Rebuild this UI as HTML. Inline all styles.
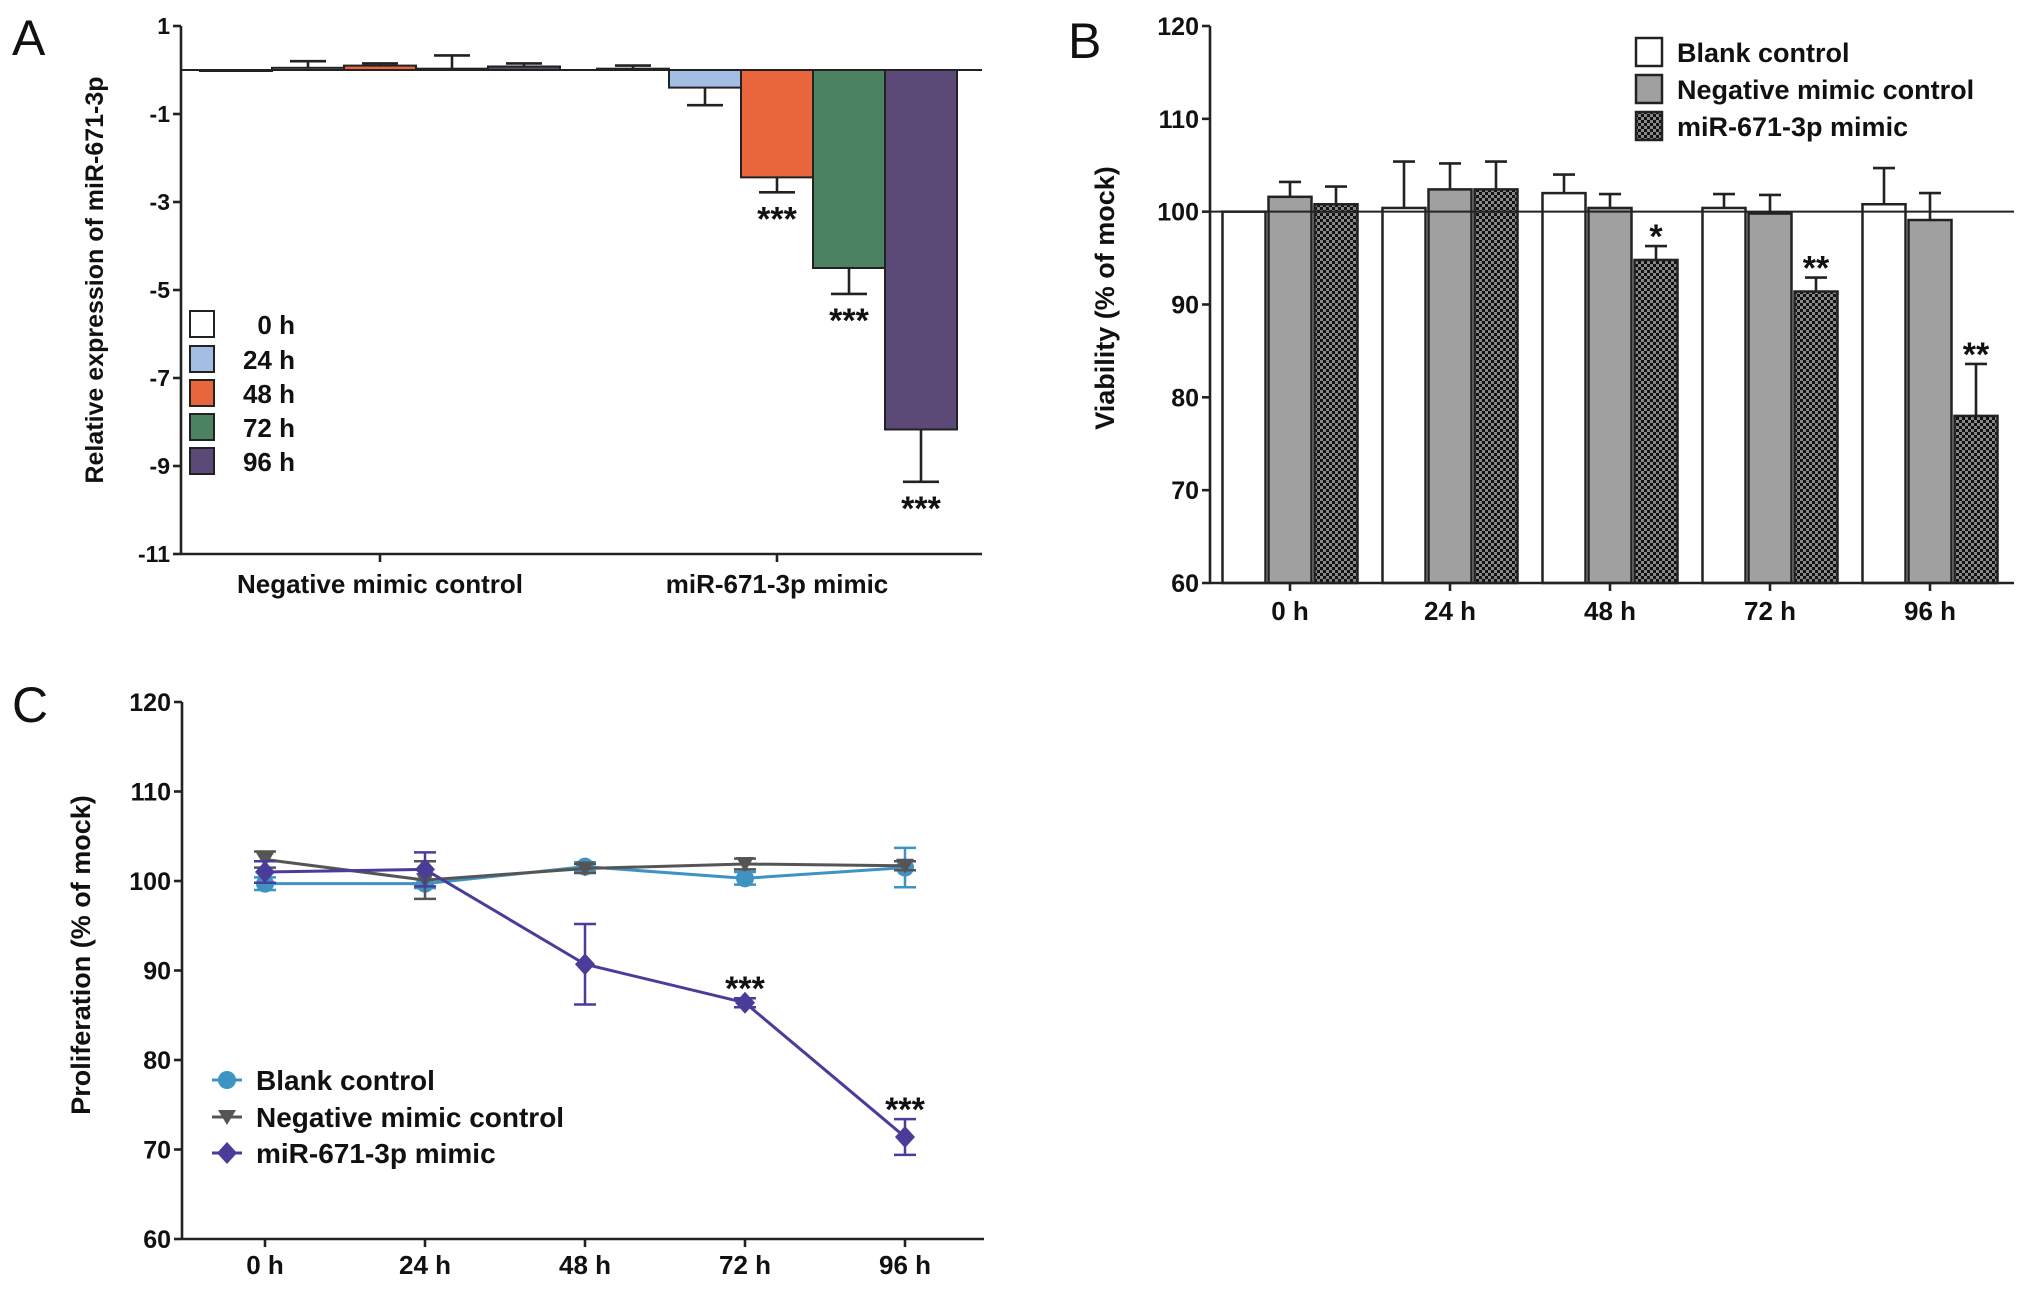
<!DOCTYPE html>
<html><head><meta charset="utf-8"><style>
html,body{margin:0;padding:0;background:#fff}
svg{display:block}
text{font-family:"Liberation Sans",sans-serif;font-weight:bold;fill:#111}
</style></head><body>
<svg id="fig" width="2031" height="1289" viewBox="0 0 2031 1289" xmlns="http://www.w3.org/2000/svg">
<defs>
<pattern id="hatch" width="6" height="6" patternUnits="userSpaceOnUse">
<rect width="6" height="6" fill="#111"/>
<rect x="0" y="0" width="3" height="3" fill="#888"/>
<rect x="3" y="3" width="3" height="3" fill="#888"/>
</pattern>
</defs>
<text x="12" y="55" font-size="50" style="font-weight:normal">A</text>
<text x="1068" y="58" font-size="50" style="font-weight:normal">B</text>
<text x="12" y="722" font-size="50" style="font-weight:normal">C</text>
<g id="pa"></g>
<g id="pb"></g>
<g id="pc"></g>
</svg>
<script>
// Panel A data
const aGroups = ["Negative  mimic control", "miR-671-3p mimic"];
const aTimes = ["0 h", "24 h", "48 h", "72 h", "96 h"];
const aNeg = [0, 0.05, 0.1, 0.03, 0.08];
const aNegErr = [0, 0.15, 0.05, 0.3, 0.07];
const aMir = [0.03, -0.4, -2.44, -4.5, -8.17];
const aMirErr = [0.07, 0.4, 0.34, 0.59, 1.19];
const aMirSig = ["", "", "***", "***", "***"];
const aTicks = [1, -1, -3, -5, -7, -9, -11];
const aColors = ["#ffffff", "#a3bde3", "#e9653b", "#4b8261", "#5b4a78"];
// Panel B data
const bTimes = ["0 h", "24 h", "48 h", "72 h", "96 h"];
const bSeries = ["Blank control", "Negative mimic control", "miR-671-3p mimic"];
const bBlank = [100, 100.4, 102, 100.4, 100.8];
const bBlankErr = [0, 5, 2, 1.5, 3.9];
const bNeg = [101.6, 102.4, 100.4, 99.8, 99.1];
const bNegErr = [1.6, 2.8, 1.5, 2, 2.9];
const bMir = [100.8, 102.4, 94.8, 91.4, 78];
const bMirErr = [1.9, 3, 1.5, 1.5, 5.6];
const bMirSig = ["", "", "*", "**", "**"];
const bTicks = [60, 70, 80, 90, 100, 110, 120];
// Panel C data
const cTimes = ["0 h", "24 h", "48 h", "72 h", "96 h"];
const cBlank = [99.7, 99.7, 101.6, 100.3, 101.5];
const cBlankErr = [0.7, 0.5, 0.5, 0.7, 2.2];
const cNeg = [102.4, 100.1, 101.4, 101.9, 101.7];
const cNegErr = [0.9, 2.1, 0.5, 0.6, 0.5];
const cMir = [101, 101.3, 90.7, 86.4, 71.4];
const cMirErr = [1.2, 1.9, 4.5, 0.5, 2];
const cMirSig = ["", "", "", "***", "***"];
const cTicks = [60, 70, 80, 90, 100, 110, 120];

const NS = "http://www.w3.org/2000/svg";
function mk(parent, tag, attrs, txt) {
  const e = document.createElementNS(NS, tag);
  for (const k in attrs) e.setAttribute(k, attrs[k]);
  if (txt !== undefined) e.textContent = txt;
  parent.appendChild(e);
  return e;
}
const LW = 2.6;

// ---------- Panel A ----------
(function(){
  const g = document.getElementById('pa');
  const x0 = 181, x1 = 982, yTop = 26, yBot = 554, vTop = 1, vBot = -11;
  const y = v => yTop + (vTop - v) * (yBot - yTop) / (vTop - vBot);
  const bw = 72, centers = [380, 777];
  aTicks.forEach(t => {
    let l = mk(g, 'line', {x1: x0 - 8, x2: x0, y1: y(t), y2: y(t), stroke: '#222', 'stroke-width': LW});
    
    
    let tx = mk(g, 'text', {x: x0 - 11, y: y(t) + 8, 'font-size': 23, 'text-anchor': 'end'}, String(t));
    
    
  });
  const series = [aNeg, aMir], errs = [aNegErr, aMirErr];
  series.forEach((vals, gi) => {
    const start = centers[gi] - bw * vals.length / 2;
    vals.forEach((v, i) => {
      const bx = start + i * bw, yv = y(v), y0 = y(0);
      let r = mk(g, 'rect', {x: bx, y: Math.min(yv, y0), width: bw, height: Math.max(Math.abs(yv - y0), 1), fill: aColors[i], stroke: '#222', 'stroke-width': 2});
      
      
      const e = errs[gi][i], cx = bx + bw / 2;
      if (e > 0) {
        const ye = y(v >= 0 ? v + e : v - e);
        mk(g, 'line', {x1: cx, x2: cx, y1: yv, y2: ye, stroke: '#222', 'stroke-width': LW});
        mk(g, 'line', {x1: cx - 18, x2: cx + 18, y1: ye, y2: ye, stroke: '#222', 'stroke-width': LW});
      }
      if (gi === 1 && aMirSig[i]) {
        let s = mk(g, 'text', {x: cx, y: y(v - e) + 38, 'font-size': 34, 'text-anchor': 'middle'}, aMirSig[i]);
        
        
      }
    });
  });
  mk(g, 'line', {x1: x0, x2: x1, y1: y(0), y2: y(0), stroke: '#222', 'stroke-width': 2});
  mk(g, 'line', {x1: x0, x2: x0, y1: yTop, y2: yBot, stroke: '#222', 'stroke-width': LW});
  mk(g, 'line', {x1: x0, x2: x1, y1: yBot, y2: yBot, stroke: '#222', 'stroke-width': LW});
  aGroups.forEach((n, i) => {
    mk(g, 'line', {x1: centers[i], x2: centers[i], y1: yBot, y2: yBot + 8, stroke: '#222', 'stroke-width': LW});
    let t = mk(g, 'text', {x: centers[i], y: 593, 'font-size': 26, 'text-anchor': 'middle', 'xml:space': 'preserve'}, n);
    
    
  });
  let yl = mk(g, 'text', {x: 0, y: 0, 'font-size': 25, 'text-anchor': 'middle', transform: 'translate(103,280) rotate(-90)'}, 'Relative expression of miR-671-3p');
  
  
  const legY = [324, 359, 393, 427, 461];
  aTimes.forEach((t, i) => {
    let r = mk(g, 'rect', {x: 190, y: legY[i] - 13, width: 24, height: 26, fill: aColors[i], stroke: '#222', 'stroke-width': 2});
    
    
    let tx = mk(g, 'text', {x: 295, y: legY[i] + 10, 'font-size': 26, 'text-anchor': 'end'}, t);
    
    
  });
})();

// ---------- Panel B ----------
(function(){
  const g = document.getElementById('pb');
  const x0 = 1210, x1 = 2014, yTop = 26, yBot = 583, vTop = 120, vBot = 60;
  const y = v => yTop + (vTop - v) * (yBot - yTop) / (vTop - vBot);
  const bw = 43, gap = 3, spacing = 160, c0 = 1290;
  bTicks.forEach(t => {
    mk(g, 'line', {x1: x0 - 8, x2: x0, y1: y(t), y2: y(t), stroke: '#222', 'stroke-width': LW});
    let tx = mk(g, 'text', {x: x0 - 11, y: y(t) + 9, 'font-size': 25, 'text-anchor': 'end'}, String(t));
    
    
  });
  const vals = [bBlank, bNeg, bMir], errs = [bBlankErr, bNegErr, bMirErr];
  const fills = ['#ffffff', '#a0a0a0', 'url(#hatch)'];
  const names = ['blank', 'negative', 'mimic'];
  bTimes.forEach((tm, i) => {
    const c = c0 + i * spacing;
    vals.forEach((sv, s) => {
      const bx = c - 1.5 * bw - gap + s * (bw + gap);
      const v = sv[i];
      let r = mk(g, 'rect', {x: bx, y: y(v), width: bw, height: yBot - y(v), fill: fills[s], stroke: '#222', 'stroke-width': 2.5});
      
      
      const e = errs[s][i], cx = bx + bw / 2;
      if (e > 0) {
        mk(g, 'line', {x1: cx, x2: cx, y1: y(v), y2: y(v + e), stroke: '#222', 'stroke-width': LW});
        mk(g, 'line', {x1: cx - 11, x2: cx + 11, y1: y(v + e), y2: y(v + e), stroke: '#222', 'stroke-width': LW});
      }
      if (s === 2 && bMirSig[i]) {
        let st = mk(g, 'text', {x: cx, y: y(v + e) + 2, 'font-size': 34, 'text-anchor': 'middle'}, bMirSig[i]);
        
        
      }
    });
    mk(g, 'line', {x1: c, x2: c, y1: yBot, y2: yBot + 8, stroke: '#222', 'stroke-width': LW});
    let tx = mk(g, 'text', {x: c, y: 620, 'font-size': 26, 'text-anchor': 'middle'}, tm);
    
    
  });
  mk(g, 'line', {x1: x0, x2: x1, y1: y(100), y2: y(100), stroke: '#222', 'stroke-width': 2});
  mk(g, 'line', {x1: x0, x2: x0, y1: yTop, y2: yBot, stroke: '#222', 'stroke-width': LW});
  mk(g, 'line', {x1: x0, x2: x1, y1: yBot, y2: yBot, stroke: '#222', 'stroke-width': LW});
  let yl = mk(g, 'text', {x: 0, y: 0, 'font-size': 27, 'text-anchor': 'middle', transform: 'translate(1114,298) rotate(-90)'}, 'Viability (% of mock)');
  
  
  const legY = [52, 89, 126];
  bSeries.forEach((n, i) => {
    let r = mk(g, 'rect', {x: 1636, y: legY[i] - 14, width: 26, height: 28, fill: fills[i], stroke: '#222', 'stroke-width': 2.5});
    
    
    let tx = mk(g, 'text', {x: 1677, y: legY[i] + 10, 'font-size': 27}, n);
    
    
  });
})();

// ---------- Panel C ----------
(function(){
  const g = document.getElementById('pc');
  const x0 = 182, x1 = 984, yTop = 702, yBot = 1239, vTop = 120, vBot = 60;
  const y = v => yTop + (vTop - v) * (yBot - yTop) / (vTop - vBot);
  const x = i => 265 + i * 160;
  cTicks.forEach(t => {
    mk(g, 'line', {x1: x0 - 8, x2: x0, y1: y(t), y2: y(t), stroke: '#222', 'stroke-width': LW});
    let tx = mk(g, 'text', {x: x0 - 11, y: y(t) + 9, 'font-size': 25, 'text-anchor': 'end'}, String(t));
    
    
  });
  cTimes.forEach((tm, i) => {
    mk(g, 'line', {x1: x(i), x2: x(i), y1: yBot, y2: yBot + 8, stroke: '#222', 'stroke-width': LW});
    let tx = mk(g, 'text', {x: x(i), y: 1274, 'font-size': 26, 'text-anchor': 'middle'}, tm);
    
    
  });
  mk(g, 'line', {x1: x0, x2: x0, y1: yTop, y2: yBot, stroke: '#222', 'stroke-width': LW});
  mk(g, 'line', {x1: x0, x2: x1, y1: yBot, y2: yBot, stroke: '#222', 'stroke-width': LW});
  const ser = [
    {v: cBlank, e: cBlankErr, col: '#3f93c2', m: 'circle', n: 'blank-control'},
    {v: cNeg, e: cNegErr, col: '#555555', m: 'tri', n: 'negative-mimic-control'},
    {v: cMir, e: cMirErr, col: '#4a3d9a', m: 'diamond', n: 'mir-671-3p-mimic'}
  ];
  function marker(parent, type, cx, cy, col) {
    let el;
    if (type === 'circle') el = mk(parent, 'circle', {cx: cx, cy: cy, r: 9, fill: col});
    else if (type === 'tri') el = mk(parent, 'path', {d: `M${cx-9},${cy-7} L${cx+9},${cy-7} L${cx},${cy+8} Z`, fill: col});
    else el = mk(parent, 'path', {d: `M${cx},${cy-11} L${cx+10},${cy} L${cx},${cy+11} L${cx-10},${cy} Z`, fill: col});
    return el;
  }
  ser.forEach(s => {
    const pts = s.v.map((v, i) => x(i) + ',' + y(v)).join(' ');
    let pl = mk(g, 'polyline', {points: pts, fill: 'none', stroke: s.col, 'stroke-width': 3});
    
    
    s.v.forEach((v, i) => {
      const cx = x(i);
      mk(g, 'line', {x1: cx, x2: cx, y1: y(v - s.e[i]), y2: y(v + s.e[i]), stroke: s.col, 'stroke-width': 2.5});
      mk(g, 'line', {x1: cx - 11, x2: cx + 11, y1: y(v - s.e[i]), y2: y(v - s.e[i]), stroke: s.col, 'stroke-width': 2.5});
      mk(g, 'line', {x1: cx - 11, x2: cx + 11, y1: y(v + s.e[i]), y2: y(v + s.e[i]), stroke: s.col, 'stroke-width': 2.5});
      let m = marker(g, s.m, cx, y(v), s.col);
      
      
    });
  });
  cMir.forEach((v, i) => {
    if (cMirSig[i]) {
      let st = mk(g, 'text', {x: x(i), y: y(v + cMirErr[i]) + 2, 'font-size': 34, 'text-anchor': 'middle'}, cMirSig[i]);
      
      
    }
  });
  let yl = mk(g, 'text', {x: 0, y: 0, 'font-size': 27, 'text-anchor': 'middle', transform: 'translate(90,955) rotate(-90)'}, 'Proliferation (% of mock)');
  
  
  const legY = [1080, 1117, 1153];
  const legN = ['Blank control', 'Negative mimic control', 'miR-671-3p mimic'];
  ser.forEach((s, i) => {
    mk(g, 'line', {x1: 212, x2: 242, y1: legY[i], y2: legY[i], stroke: s.col, 'stroke-width': 3});
    let m = marker(g, s.m, 227, legY[i], s.col);
    
    
    let tx = mk(g, 'text', {x: 256, y: legY[i] + 10, 'font-size': 28}, legN[i]);
    
    
  });
})();
</script>
</body></html>
